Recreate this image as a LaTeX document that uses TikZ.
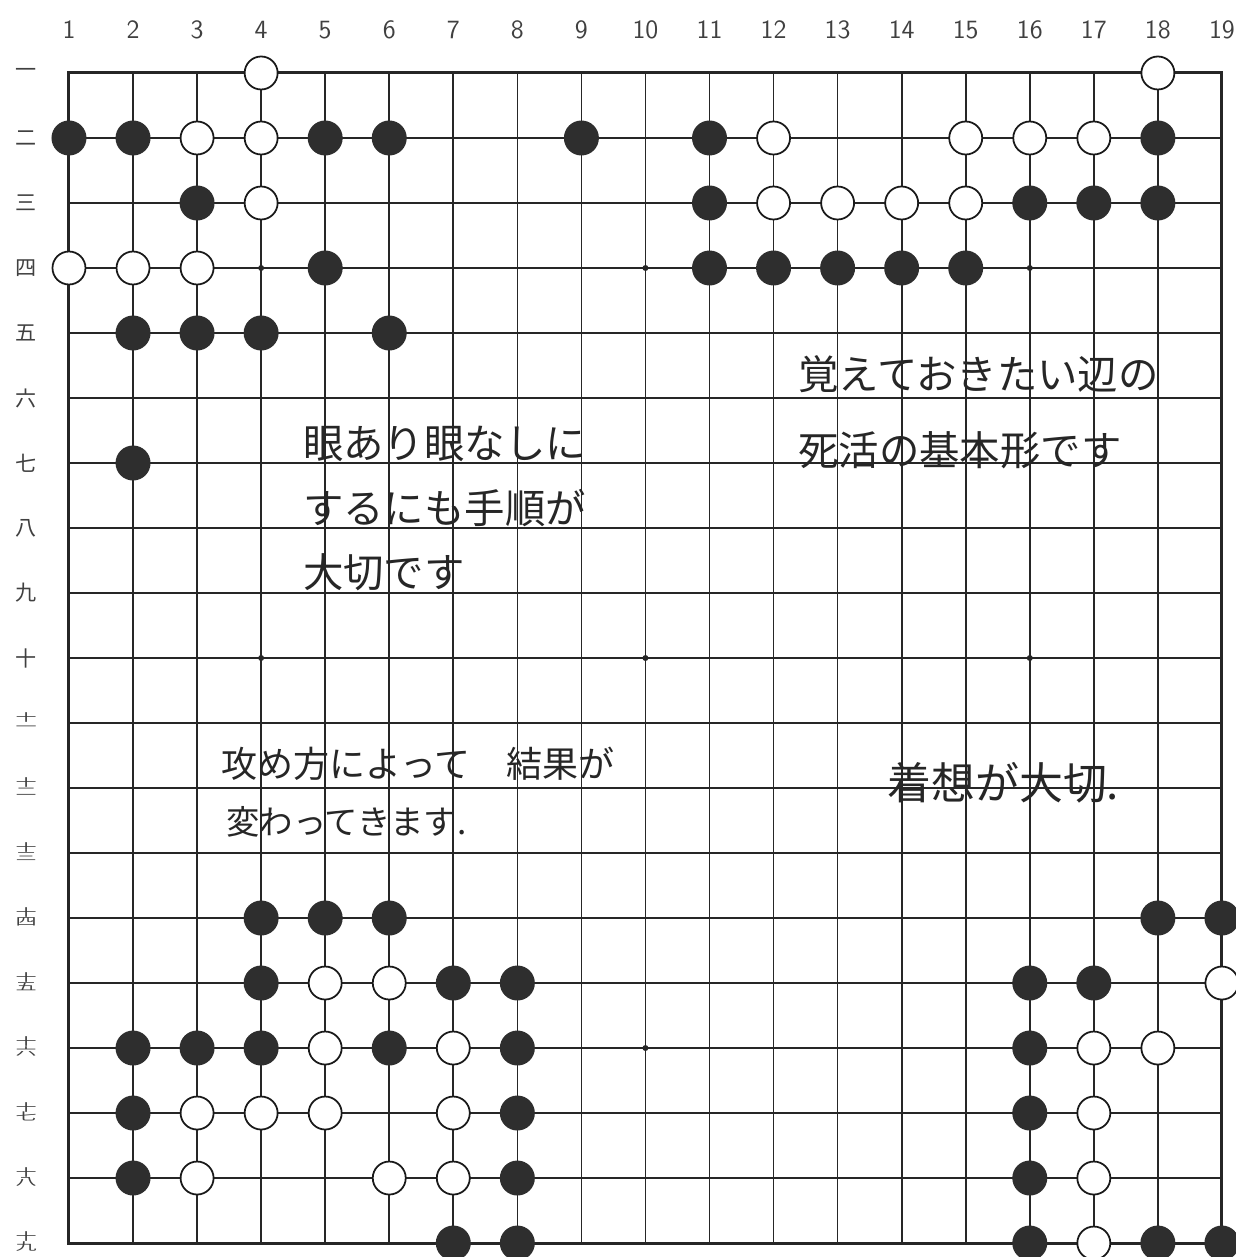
\documentclass[tikz,border=0pt]{standalone}
\usepackage{fontspec}
\usepackage{graphicx}
\newfontfamily\jpfont{Noto Sans CJK JP}
\newcommand{\juu}[1]{\scalebox{1}[0.5]{\begin{tabular}{@{}c@{}}十\\[-0.2em]#1\end{tabular}}}

\begin{document}
\begin{tikzpicture}[
		x=1.281cm, y=-1.3cm,
		gridline/.style={line width=0.95pt, black!85},
		boardedge/.style={line width=1.7pt, black!85},
		blackstone/.style={circle, fill=black!82, inner sep=0pt, minimum size=0.7cm},
		whitestone/.style={circle, draw=black!90, fill=white, line width=1pt, inner sep=0pt, minimum size=0.66cm},
		colnum/.style={font=\sffamily\fontsize{15}{15}\selectfont, text=black!75},
		rownum/.style={font=\jpfont\fontsize{12}{12}\selectfont, text=black!75},
		memo/.style={font=\jpfont\fontsize{23}{23}\selectfont, text=black!85, anchor=west, inner sep=0pt},
		]
		\useasboundingbox (-0.077,-0.123) rectangle (19.205,19.215);
		
		%board
		\foreach \i in {2,...,18} {
			\draw[gridline] (\i,1) -- (\i,19);
			\draw[gridline] (1,\i) -- (19,\i);
		}
		\draw[boardedge] (1,1) rectangle (19,19);
		\foreach \i/\j in {4/4,10/4,16/4,4/10,10/10,16/10,4/16,10/16,16/16}
			\fill[black!85] (\i,\j) circle (0.06cm);
		
		%coordinates
		\foreach \i in {1,...,19}
			\node[colnum] (col\i) at (\i,0.34) {\i};
		\foreach \lab [count=\j] in {一,二,三,四,五,六,七,八,九,十,\juu{一},\juu{二},\juu{三},\juu{四},\juu{五},\juu{六},\juu{七},\juu{八},\juu{九}}
			\node[rownum] (row\j) at (0.33,\j) {\lab};
		
		%stones
		\foreach \c/\r in {1/2,2/2,5/2,6/2,9/2,11/2,18/2,3/3,11/3,16/3,17/3,18/3,5/4,11/4,12/4,13/4,14/4,15/4,2/5,3/5,4/5,6/5,2/7,
			4/14,5/14,6/14,18/14,19/14,4/15,7/15,8/15,16/15,17/15,2/16,3/16,4/16,6/16,8/16,16/16,
			2/17,8/17,16/17,2/18,8/18,16/18,7/19,8/19,16/19,18/19,19/19}
			\node[blackstone] (b\c-\r) at (\c,\r) {};
		\foreach \c/\r in {4/1,18/1,3/2,4/2,12/2,15/2,16/2,17/2,4/3,12/3,13/3,14/3,15/3,1/4,2/4,3/4,
			5/15,6/15,19/15,5/16,7/16,17/16,18/16,3/17,4/17,5/17,7/17,17/17,3/18,6/18,7/18,17/18,17/19}
			\node[whitestone] (w\c-\r) at (\c,\r) {};
		
		%notes
		\node[memo] (memoA1) at (4.65,6.70) {眼あり眼なしに};
		\node[memo] (memoA2) at (4.65,7.70) {するにも手順が};
		\node[memo] (memoA3) at (4.65,8.68) {大切です};
		\node[memo] (memoB1) at (12.38,5.63) {覚えておきたい辺の};
		\node[memo] (memoB2) at (12.38,6.80) {死活の基本形です};
		\node[memo, font=\jpfont\fontsize{20.5}{20.5}\selectfont] (memoC1) at (3.37,11.62) {攻め方によって　結果が};
		\node[memo, font=\jpfont\fontsize{19}{19}\selectfont] (memoC2) at (3.45,12.52) {変わってきます.};
		\node[memo, font=\jpfont\fontsize{25}{25}\selectfont] (memoD) at (13.77,11.92) {着想が大切.};
	\end{tikzpicture}
\end{document}
